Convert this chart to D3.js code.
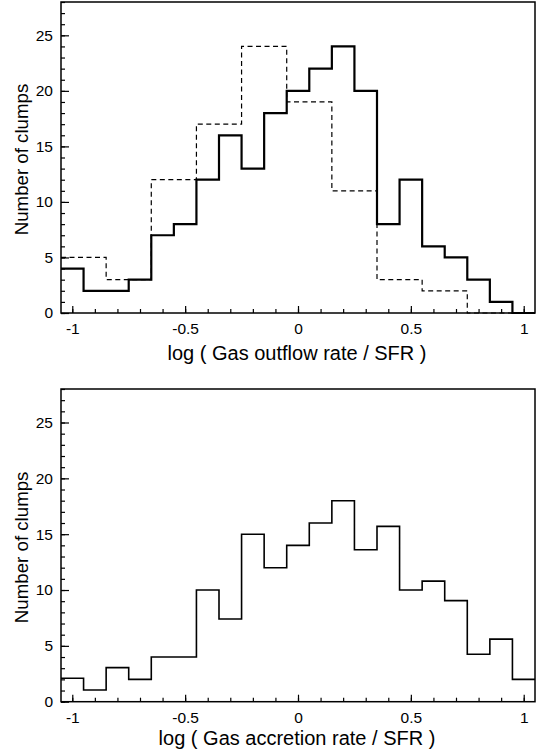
<!DOCTYPE html>
<html>
<head>
<meta charset="utf-8">
<script src="https://cdn.jsdelivr.net/npm/d3@7"></script>
<style>
  body { margin: 0; background: #fff; }
  svg { display: block; }
  text { font-family: "Liberation Sans", Arial, Helvetica, sans-serif; fill: #000; }
</style>
</head>
<body>
<svg width="540" height="753"></svg>
<script>
// bin centres (width 0.1) shared by both histograms
var binCenters = [-1.0, -0.9, -0.8, -0.7, -0.6, -0.5, -0.4, -0.3, -0.2, -0.1, 0.0,
                  0.1, 0.2, 0.3, 0.4, 0.5, 0.6, 0.7, 0.8, 0.9, 1.0];

// top panel: outflow, solid and dashed
var outflowSolid  = [4, 2, 2, 3, 7, 8, 12, 16, 13, 18, 20, 22, 24, 20, 8, 12, 6, 5, 3, 1, 0];
var outflowDashed = [5, 5, 3, 3, 12, 12, 17, 17, 24, 24, 19, 19, 11, 11, 3, 3, 2, 2, 0, 0, 0];

// bottom panel: accretion
var accretion = [2.1, 1.05, 3.05, 2.0, 4.0, 4.0, 10.0, 7.4, 15.0, 12.0, 14.0,
                 16.0, 18.0, 13.6, 15.7, 10.0, 10.8, 9.05, 4.25, 5.6, 2.0];

var xTickValues = [-1, -0.5, 0, 0.5, 1];
var xTickLabels = ["-1", "-0.5", "0", "0.5", "1"];
var yTickValues = [0, 5, 10, 15, 20, 25];

var binWidth = 0.1;
var svg = d3.select("svg");

function drawPanel(opts) {
  var x = d3.scaleLinear().domain([-1.05, 1.05]).range([61, 535]),
      y = d3.scaleLinear().domain([0, 28]).range([opts.bottom, opts.top]);

  var g = svg.append("g");

  // minor ticks
  g.append("g")
      .attr("transform", "translate(0," + opts.bottom + ")")
      .call(d3.axisBottom(x).tickValues(d3.range(-10, 11).map(function(d) { return d / 10; }))
        .tickSizeInner(-4).tickSizeOuter(0).tickFormat(""))
      .call(function(a) { a.select(".domain").remove(); });
  g.append("g")
      .attr("transform", "translate(61,0)")
      .call(d3.axisLeft(y).tickValues(d3.range(0, 29)).tickSizeInner(-4).tickSizeOuter(0).tickFormat(""))
      .call(function(a) { a.select(".domain").remove(); });

  // major ticks + labels
  var xa = g.append("g")
      .attr("transform", "translate(0," + opts.bottom + ")")
      .call(d3.axisBottom(x).tickValues(xTickValues)
        .tickSizeInner(-7).tickSizeOuter(0).tickPadding(10)
        .tickFormat(function(d, i) { return xTickLabels[i]; }));
  xa.select(".domain").remove();
  xa.selectAll("text").style("font-size", "15.5px");

  var ya = g.append("g")
      .attr("transform", "translate(61,0)")
      .call(d3.axisLeft(y).tickValues(yTickValues)
        .tickSizeInner(-8).tickSizeOuter(0).tickPadding(8));
  ya.select(".domain").remove();
  ya.selectAll("text").style("font-size", "15.5px");

  g.selectAll(".tick line").attr("stroke", "#000").attr("stroke-width", 1.2);

  // histograms
  var line = d3.line()
      .curve(d3.curveStepAfter)
      .x(function(d) { return x(d[0]); })
      .y(function(d) { return y(d[1]); });

  opts.series.forEach(function(s) {
    var pts = binCenters.map(function(c, i) { return [c - binWidth / 2, s.values[i]]; });
    pts.push([binCenters[binCenters.length - 1] + binWidth / 2, s.values[s.values.length - 1]]);
    g.append("path")
        .attr("d", line(pts))
        .attr("fill", "none")
        .attr("stroke", "#000")
        .attr("stroke-width", s.width)
        .attr("stroke-dasharray", s.dash || null);
  });

  // frame
  g.append("rect")
      .attr("x", 61)
      .attr("y", opts.top)
      .attr("width", 535 - 61)
      .attr("height", opts.bottom - opts.top)
      .attr("fill", "none")
      .attr("stroke", "#000")
      .attr("stroke-width", 1.5);

  g.append("text")
      .attr("x", 297)
      .attr("y", opts.titleY)
      .attr("text-anchor", "middle")
      .style("font-size", "20px")
      .text(opts.xTitle);

  g.append("text")
      .attr("transform", "translate(28," + ((opts.top + opts.bottom) / 2 + 2) + ") rotate(-90)")
      .attr("text-anchor", "middle")
      .style("font-size", "18.7px")
      .text("Number of clumps");
}

drawPanel({
  top: 2, bottom: 313, titleY: 360,
  xTitle: "log ( Gas outflow rate / SFR )",
  series: [
    {values: outflowDashed, width: 1.2, dash: "5,3.5"},
    {values: outflowSolid, width: 2.2}
  ]
});

drawPanel({
  top: 389, bottom: 701.7, titleY: 745,
  xTitle: "log ( Gas accretion rate / SFR )",
  series: [
    {values: accretion, width: 1.6}
  ]
});
</script>
</body>
</html>
